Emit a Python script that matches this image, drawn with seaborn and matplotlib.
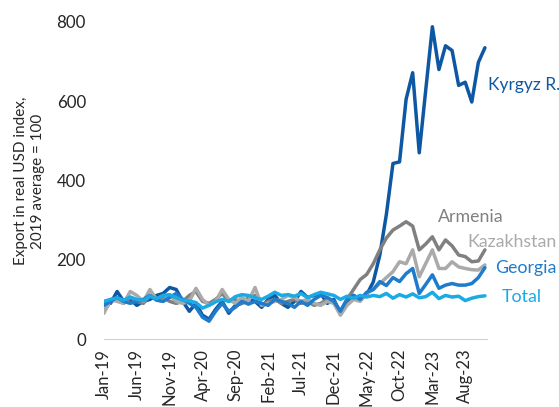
import seaborn as sns
import pandas as pd
import matplotlib
matplotlib.use("Agg")
from matplotlib import pyplot as plt

months = pd.date_range("2019-01-01", "2023-11-01", freq="MS")
tick_labels = ["Jan-19", "Jun-19", "Nov-19", "Apr-20", "Sep-20", "Feb-21",
               "Jul-21", "Dec-21", "May-22", "Oct-22", "Mar-23", "Aug-23"]

kyrgyz = [95, 90, 120, 95, 100, 85, 95, 100, 110, 115, 130, 125, 95, 70, 90, 60,
          50, 75, 95, 65, 85, 90, 100, 95, 80, 100, 110, 90, 80, 95, 120, 105,
          110, 115, 90, 100, 65, 95, 110, 100, 112, 144, 212, 315, 443, 447, 605,
          672, 470, 630, 788, 680, 740, 728, 640, 648, 598, 698, 735]
armenia = [70, 95, 100, 90, 105, 95, 90, 110, 100, 105, 95, 90, 95, 110, 120, 95,
           90, 100, 115, 95, 100, 90, 105, 110, 85, 95, 100, 90, 95, 100, 90, 95,
           85, 90, 100, 95, 70, 100, 125, 150, 163, 190, 225, 255, 275, 285, 296,
           285, 225, 240, 258, 225, 250, 235, 212, 208, 195, 197, 225]
kazakhstan = [65, 100, 95, 90, 120, 110, 95, 125, 100, 95, 110, 95, 90, 95, 128,
              100, 85, 95, 125, 100, 90, 105, 95, 130, 85, 90, 95, 100, 110, 105,
              95, 100, 90, 85, 95, 90, 60, 85, 100, 95, 115, 125, 140, 155, 170,
              195, 190, 225, 157, 191, 225, 178, 178, 195, 182, 178, 175, 174, 187]
georgia = [85, 95, 105, 95, 90, 95, 100, 110, 98, 95, 105, 115, 100, 90, 80, 55,
           45, 70, 90, 70, 80, 95, 88, 95, 90, 85, 100, 95, 90, 80, 95, 85, 100,
           110, 105, 95, 70, 100, 110, 100, 118, 125, 145, 135, 155, 145, 165,
           178, 115, 138, 162, 128, 136, 140, 136, 136, 140, 155, 180]
total = [95, 100, 104, 98, 106, 100, 97, 108, 102, 110, 112, 104, 98, 96, 92, 78,
         85, 94, 100, 95, 107, 112, 110, 104, 100, 108, 118, 110, 112, 108, 115,
         104, 112, 118, 114, 110, 100, 108, 103, 110, 106, 110, 107, 115, 103,
         112, 106, 114, 104, 107, 118, 102, 110, 106, 108, 97, 103, 107, 109]

series = {"Kyrgyz R.": kyrgyz, "Armenia": armenia, "Kazakhstan": kazakhstan,
          "Georgia": georgia, "Total": total}
colors = {"Kyrgyz R.": "#0E58A3", "Armenia": "#808080", "Kazakhstan": "#AAAAAA",
          "Georgia": "#1F7BCC", "Total": "#1AAAE6"}

rows = []
for name, vals in series.items():
    for i, v in enumerate(vals):
        rows.append({"idx": i, "value": v, "country": name})
df = pd.DataFrame(rows)

sns.set_style("white")
plt.rcParams["font.family"] = ["Lato", "DejaVu Sans"]

fig = plt.figure(figsize=(5.59, 4.07), dpi=100)
ax = fig.add_axes([0.186, 0.167, 0.685, 0.779])

sns.lineplot(data=df, x="idx", y="value", hue="country", palette=colors,
             linewidth=2.5, legend=False, ax=ax)

ax.set_xlim(0, len(months) - 1 + 0.3)
ax.set_ylim(0, 800)
ax.set_yticks([0, 200, 400, 600, 800])
ax.tick_params(axis="y", length=0, labelsize=12.2, pad=13)
ax.set_xticks(range(0, len(months), 5))
ax.set_xticklabels(tick_labels, rotation=90, fontsize=12)
ax.tick_params(axis="x", length=4, color="#D0D0D0", width=1, pad=3)
for s in ["top", "right", "left"]:
    ax.spines[s].set_visible(False)
ax.spines["bottom"].set_color("#D0D0D0")
ax.set_xlabel("")
ax.set_ylabel("")
fig.text(0.053, 0.555, "Export in real USD index,\n2019 average = 100",
         rotation=90, ha="center", va="center", fontsize=11, linespacing=1.3)

# series labels at the right end
ends = {"Kyrgyz R.": (58.4, 641, 12.5), "Armenia": (50.8, 308, 12.8),
        "Kazakhstan": (55.3, 245, 12.8), "Georgia": (59.5, 179, 12.8),
        "Total": (60.5, 106, 12.8)}
for name, (xx, yy, fs) in ends.items():
    ax.text(xx, yy, name, color=colors[name], fontsize=fs, va="center",
            ha="left", clip_on=False)

fig.savefig("out.png", dpi=100)
